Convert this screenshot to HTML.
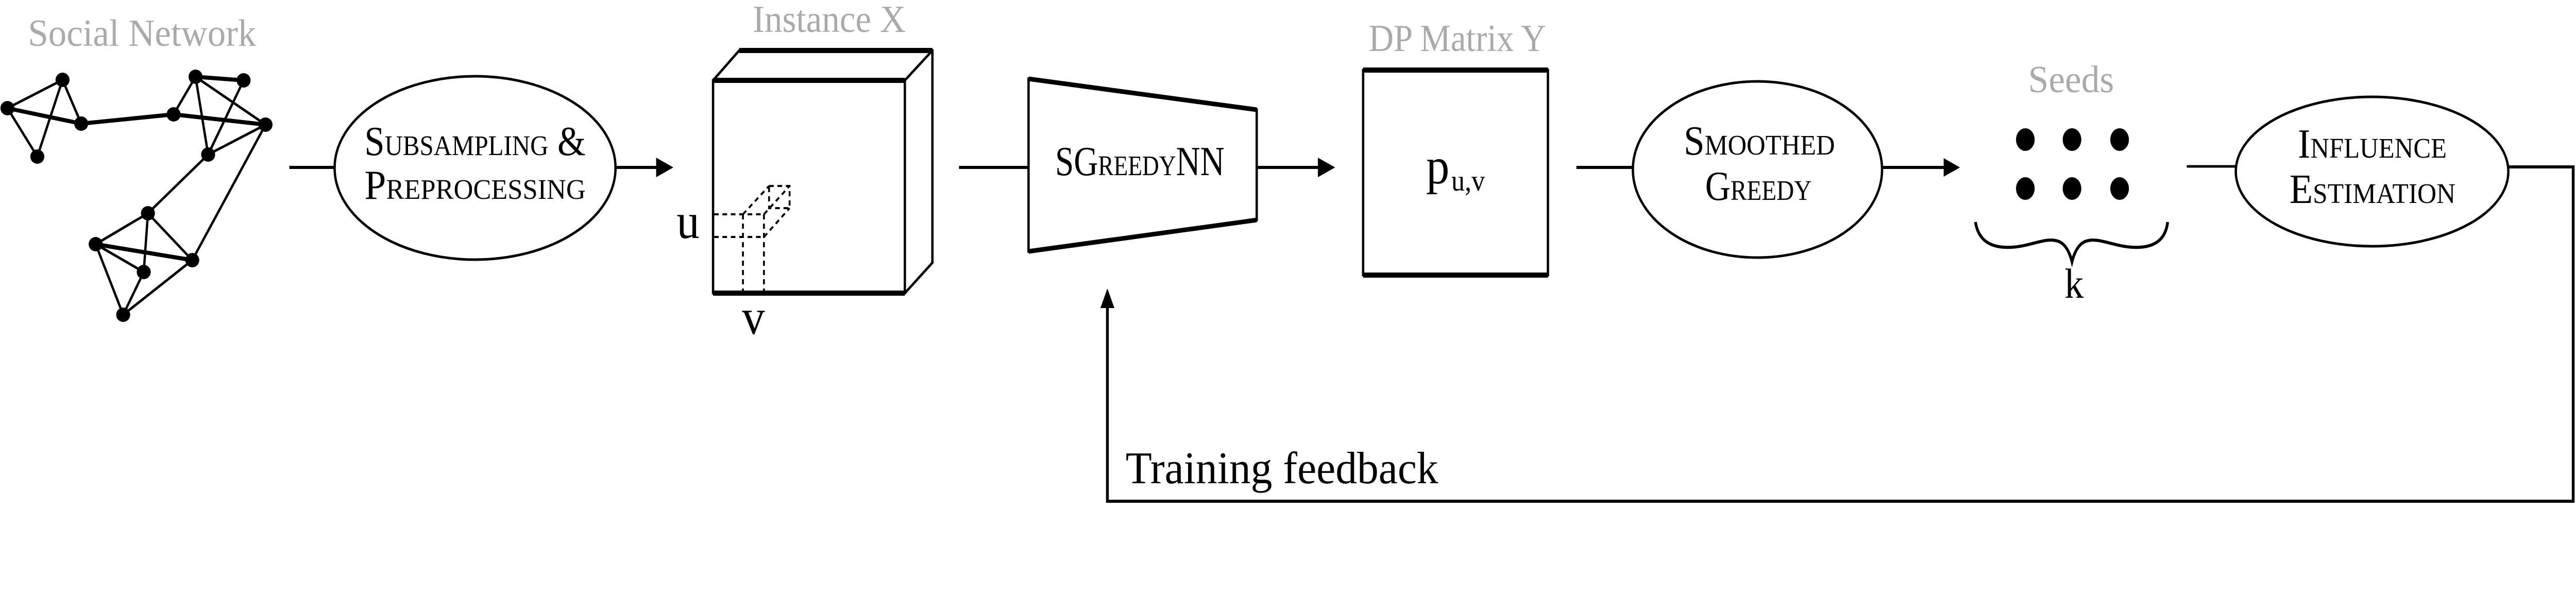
<!DOCTYPE html>
<html><head><meta charset="utf-8"><style>html,body{margin:0;padding:0;background:#fff;overflow:hidden;width:100%;height:100%}svg{display:block;width:100vw;height:100vh}</style></head>
<body>
<svg viewBox="0 0 5520 1155" preserveAspectRatio="none" xmlns="http://www.w3.org/2000/svg" font-family="Liberation Serif, serif">
<rect width="5520" height="1155" fill="#fff"/>
<!-- gray titles -->
<g fill="#aaaaaa" font-size="74">
<text x="60" y="89" textLength="489" lengthAdjust="spacingAndGlyphs">Social Network</text>
<text x="1613" y="62" textLength="328" lengthAdjust="spacingAndGlyphs">Instance X</text>
<text x="2933" y="99" textLength="380" lengthAdjust="spacingAndGlyphs">DP Matrix Y</text>
<text x="4346" y="179" textLength="184" lengthAdjust="spacingAndGlyphs">Seeds</text>
</g>
<!-- graph -->
<g stroke="#000" stroke-width="5" fill="none" stroke-linecap="round">
<line x1="134" y1="155" x2="16" y2="210"/>
<line x1="134" y1="155" x2="174" y2="240"/>
<line x1="134" y1="155" x2="80" y2="304"/>
<line x1="16" y1="210" x2="80" y2="304"/>
<line x1="16" y1="210" x2="174" y2="240" stroke-width="8"/>
<line x1="174" y1="240" x2="372" y2="222" stroke-width="8"/>
<line x1="372" y1="222" x2="569" y2="242" stroke-width="8"/>
<line x1="372" y1="222" x2="419" y2="149"/>
<line x1="419" y1="149" x2="522" y2="156" stroke-width="8"/>
<line x1="419" y1="149" x2="446" y2="300"/>
<line x1="419" y1="149" x2="569" y2="242"/>
<line x1="522" y1="156" x2="446" y2="300"/>
<line x1="569" y1="242" x2="446" y2="300"/>
<line x1="446" y1="300" x2="317" y2="414"/>
<line x1="569" y1="242" x2="412" y2="505"/>
<line x1="317" y1="414" x2="205" y2="474"/>
<line x1="317" y1="414" x2="308" y2="528"/>
<line x1="317" y1="414" x2="412" y2="505"/>
<line x1="205" y1="474" x2="412" y2="505" stroke-width="8"/>
<line x1="205" y1="474" x2="308" y2="528"/>
<line x1="205" y1="474" x2="264" y2="611"/>
<line x1="308" y1="528" x2="264" y2="611"/>
<line x1="412" y1="505" x2="264" y2="611"/>
</g>
<g fill="#000">
<ellipse cx="134" cy="155" rx="15" ry="14"/><ellipse cx="16" cy="210" rx="15" ry="14"/>
<ellipse cx="174" cy="240" rx="15" ry="14"/><ellipse cx="80" cy="304" rx="15" ry="14"/>
<ellipse cx="372" cy="222" rx="15" ry="14"/><ellipse cx="419" cy="149" rx="15" ry="14"/>
<ellipse cx="522" cy="156" rx="15" ry="14"/><ellipse cx="569" cy="242" rx="15" ry="14"/>
<ellipse cx="446" cy="300" rx="15" ry="14"/><ellipse cx="317" cy="414" rx="15" ry="14"/>
<ellipse cx="205" cy="474" rx="15" ry="14"/><ellipse cx="308" cy="528" rx="15" ry="14"/>
<ellipse cx="412" cy="505" rx="15" ry="14"/><ellipse cx="264" cy="611" rx="15" ry="14"/>
</g>
<!-- connectors -->
<g stroke="#000" stroke-width="6" fill="none">
<line x1="620" y1="325" x2="716" y2="325"/>
<line x1="1319" y1="325" x2="1410" y2="325"/>
<line x1="2055" y1="325" x2="2204" y2="325"/>
<line x1="2693" y1="325" x2="2828" y2="325"/>
<line x1="3378" y1="325" x2="3499" y2="325"/>
<line x1="4034" y1="325" x2="4168" y2="325"/>
<line x1="4686" y1="323" x2="4791" y2="323" stroke-width="5"/>
<polyline points="5376,324 5514,324 5514,973 2373,973 2373,590" stroke-width="6"/>
</g>
<g fill="#000">
<polygon points="1406,306 1443,325 1406,344"/>
<polygon points="2824,306 2861,325 2824,344"/>
<polygon points="4165,307 4200,325 4165,343"/>
<polygon points="2373,560 2358,598 2388,598"/>
</g>
<!-- ellipses -->
<g stroke="#000" stroke-width="5" fill="#fff">
<ellipse cx="1018" cy="326" rx="301" ry="178"/>
<ellipse cx="3766" cy="329" rx="267" ry="171"/>
<ellipse cx="5083" cy="333" rx="292" ry="145"/>
</g>
<!-- trapezoid -->
<polygon points="2204,153 2693,213 2693,427 2204,488" fill="#fff" stroke="#000" stroke-width="5"/>
<line x1="2204" y1="153" x2="2693" y2="213" stroke="#000" stroke-width="9"/>
<line x1="2204" y1="488" x2="2693" y2="427" stroke="#000" stroke-width="9"/>
<g font-size="80" fill="#000" style="font-variant:small-caps">
<text x="781" y="301" textLength="474" lengthAdjust="spacingAndGlyphs">Subsampling &amp;</text>
<text x="781" y="386" textLength="474" lengthAdjust="spacingAndGlyphs">Preprocessing</text>
<text x="3608" y="300" textLength="324" lengthAdjust="spacingAndGlyphs">Smoothed</text>
<text x="3654" y="388" textLength="228" lengthAdjust="spacingAndGlyphs">Greedy</text>
<text x="4924" y="306" textLength="319" lengthAdjust="spacingAndGlyphs">Influence</text>
<text x="4906" y="394" textLength="356" lengthAdjust="spacingAndGlyphs">Estimation</text>
<text x="2261" y="340" textLength="363" lengthAdjust="spacingAndGlyphs">SGreedyNN</text>
</g>
<!-- cube -->
<g stroke="#000" fill="none" stroke-width="5">
<rect x="1528" y="156" width="411" height="413" fill="#fff"/>
<polyline points="1528,156 1584,98 1998,98 1998,510 1939,569"/>
<line x1="1939" y1="156" x2="1998" y2="98"/>
<line x1="1528" y1="156" x2="1939" y2="156" stroke-width="10"/>
<line x1="1584" y1="98" x2="1998" y2="98" stroke-width="10"/>
<line x1="1528" y1="569" x2="1939" y2="569" stroke-width="10"/>
</g>
<g stroke="#000" fill="none" stroke-width="4" stroke-dasharray="10,8">
<line x1="1530" y1="416" x2="1637" y2="416"/>
<line x1="1530" y1="460" x2="1637" y2="460"/>
<line x1="1592" y1="416" x2="1592" y2="568"/>
<line x1="1637" y1="416" x2="1637" y2="568"/>
<rect x="1648" y="361" width="44" height="43"/>
<line x1="1592" y1="416" x2="1648" y2="361"/>
<line x1="1637" y1="416" x2="1692" y2="361"/>
<line x1="1637" y1="460" x2="1692" y2="404"/>
</g>
<text x="1450" y="462" font-size="98" fill="#000">u</text>
<text x="1590" y="648" font-size="98" fill="#000">v</text>
<!-- DP matrix -->
<rect x="2921" y="136" width="396" height="398" fill="#fff" stroke="#000" stroke-width="5"/>
<line x1="2921" y1="136" x2="3317" y2="136" stroke="#000" stroke-width="10"/>
<line x1="2921" y1="534" x2="3317" y2="534" stroke="#000" stroke-width="10"/>
<text x="3056" y="356" font-size="100" fill="#000">p</text>
<text x="3110" y="370" font-size="58" fill="#000" textLength="72" lengthAdjust="spacingAndGlyphs">u,v</text>
<!-- seeds -->
<g fill="#000">
<ellipse cx="4340" cy="271" rx="20" ry="22"/><ellipse cx="4440" cy="271" rx="20" ry="22"/><ellipse cx="4542" cy="271" rx="20" ry="22"/>
<ellipse cx="4340" cy="366" rx="20" ry="22"/><ellipse cx="4440" cy="366" rx="20" ry="22"/><ellipse cx="4542" cy="366" rx="20" ry="22"/>
</g>
<path d="M4233,431 C4240,470 4270,482 4310,480 C4350,478 4380,462 4405,467 C4425,470 4435,490 4440,508 C4445,490 4455,470 4475,467 C4500,462 4530,478 4570,480 C4610,482 4640,470 4645,431" fill="none" stroke="#000" stroke-width="6"/>
<text x="4424" y="578" font-size="82" fill="#000">k</text>
<text x="2412" y="938" font-size="88" fill="#000" textLength="670" lengthAdjust="spacingAndGlyphs">Training feedback</text>
</svg>
</body></html>
